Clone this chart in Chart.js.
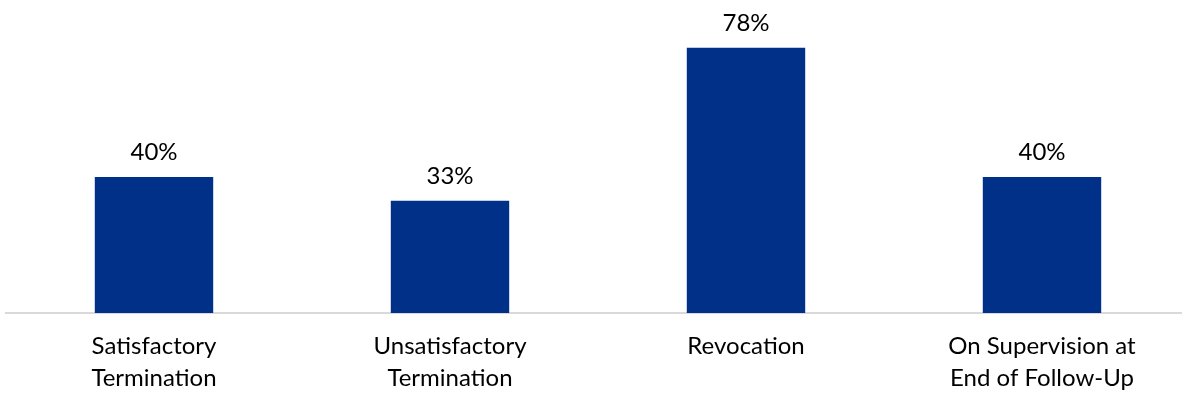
<!DOCTYPE html>
<html>
<head>
<meta charset="utf-8">
<script src="https://cdn.jsdelivr.net/npm/chart.js@4/dist/chart.umd.min.js"></script>
<style>
  body { margin: 0; overflow: hidden; background: #fff; }
  .wrap { width: 1190px; height: 395px; }
</style>
</head>
<body>
<div class="wrap"><canvas id="chart"></canvas></div>
<script>
const categories = [
    ["Satisfactory", "Termination"],
    ["Unsatisfactory", "Termination"],
    ["Revocation"],
    ["On Supervision at", "End of Follow-Up"],
];
const percentValues = [40, 33, 78, 40];

const FONT = "Lato, 'Open Sans', sans-serif";

// write the % above each bar
const valueLabels = {
    id: "valueLabels",
    afterDatasetsDraw(chart) {
        const ctx = chart.ctx;
        const meta = chart.getDatasetMeta(0);
        ctx.save();
        ctx.font = "24px " + FONT;
        ctx.fillStyle = "#000";
        ctx.textAlign = "center";
        ctx.textBaseline = "middle";
        meta.data.forEach((bar, i) => {
            ctx.fillText(percentValues[i] + "%", bar.x, bar.y - 25);
        });
        ctx.restore();
    },
};

const canvas = document.querySelector("#chart");
const chart = new Chart(canvas, {
    type: "bar",
    data: {
        labels: categories,
        datasets: [
            {
                data: percentValues,
                backgroundColor: "#003087",
                categoryPercentage: 1,
                barPercentage: 0.4,
            },
        ],
    },
    options: {
        responsive: true,
        maintainAspectRatio: false,
        animation: false,
        layout: { padding: { top: 7, left: 6, right: 0, bottom: 2 } },
        plugins: {
            legend: { display: false },
            tooltip: { enabled: false },
        },
        scales: {
            x: {
                grid: { display: false, drawTicks: false },
                border: { display: true, color: "#d9d9d9", width: 2 },
                ticks: {
                    color: "#000",
                    font: { family: FONT, size: 24, lineHeight: 1.3 },
                    padding: 18,
                    maxRotation: 0,
                    autoSkip: false,
                },
                afterFit(scale) {
                    scale.height = 80;
                },
            },
            y: {
                display: false,
                min: 0,
                max: 90,
            },
        },
    },
    plugins: [valueLabels],
});
</script>
</body>
</html>
